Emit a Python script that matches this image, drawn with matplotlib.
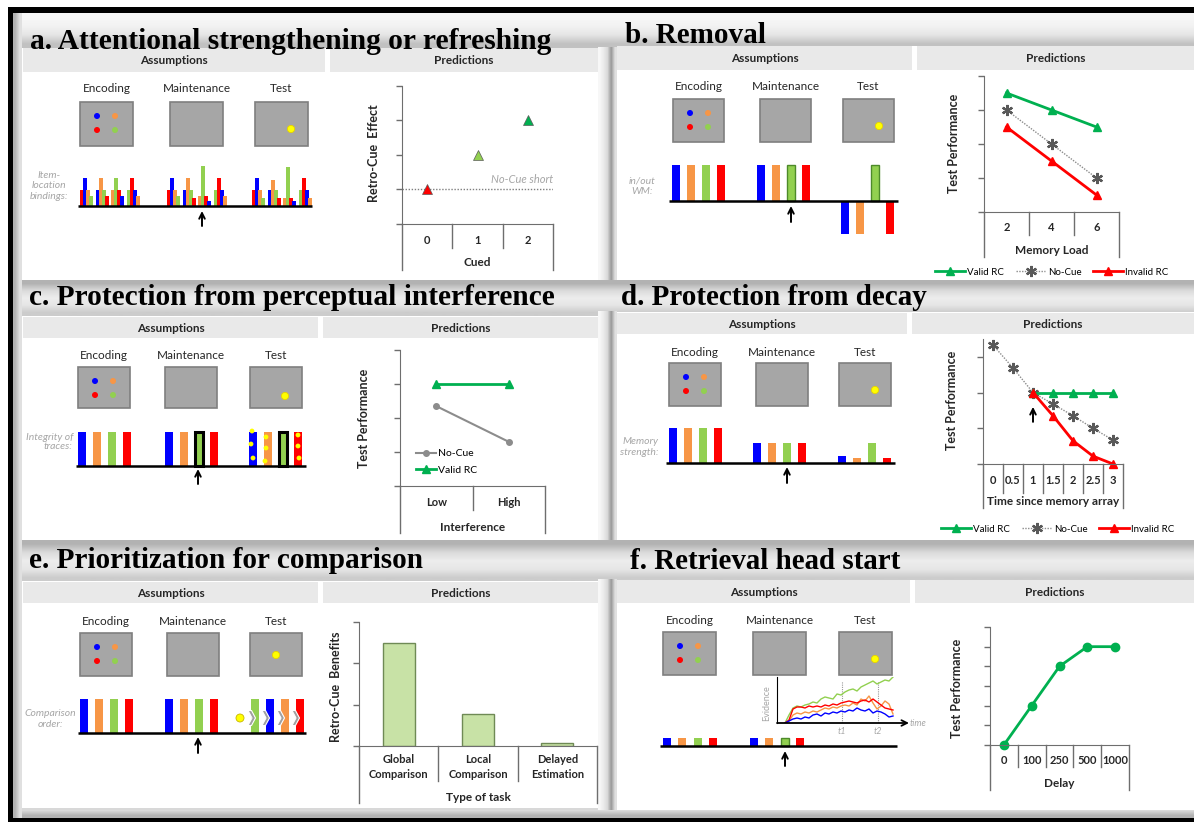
import numpy as np
import matplotlib
matplotlib.use('Agg')
import matplotlib.pyplot as plt
import matplotlib.transforms as mtransforms
from matplotlib.patches import Rectangle, Circle, Polygon

plt.rcParams['font.family'] = ['Lato', 'DejaVu Sans']

W, H = 1194, 822

# ---------------- data ----------------
item_colors = ['#0000ff', '#f79646', '#92d050', '#ff0000']   # blue, orange, green, red
stages = ['Encoding', 'Maintenance', 'Test']

# a. item-location bindings, 4 clusters x 4 bars per stage
a_enc = [[1.6, 2.8, 1.6, 1.0], [1.6, 2.8, 1.6, 1.0], [1.6, 2.8, 1.6, 1.0], [1.6, 2.8, 1.6, 1.0]]
a_maint = [[1.6, 2.8, 1.6, 1.0], [1.6, 2.8, 1.6, 0.8], [1.0, 4.0, 1.0, 0.5], [1.6, 2.8, 1.6, 1.0]]
a_test = [[1.6, 2.8, 1.6, 0.8], [1.6, 2.6, 1.6, 0.8], [0.8, 3.9, 0.8, 0.5], [1.6, 2.8, 1.6, 0.8]]
a_cued = ['0', '1', '2']
a_effect = [1, 2, 3]
a_nocue_short = 1

# b. in/out of WM
b_enc = [1, 1, 1, 1]
b_maint = [1, 1, 1, 1]
b_test = [-0.92, -0.92, 1, -0.92]
b_load = ['2', '4', '6']
b_valid = [3.5, 3.0, 2.5]
b_nocue = [3.0, 2.0, 1.0]
b_invalid = [2.5, 1.5, 0.5]

# c. integrity of traces
c_strength = [1, 1, 1, 1]
c_interference = ['Low', 'High']
c_nocue = [2.35, 1.3]
c_valid = [3, 3]

# d. memory strength
d_enc = [1, 1, 1, 1]
d_maint = [0.57, 0.57, 0.57, 0.57]
d_test = [0.2, 0.14, 0.57, 0.14]
d_time = ['0', '0.5', '1', '1.5', '2', '2.5', '3']
d_nocue = [3.33, 2.69, 2.0, 1.68, 1.35, 1.0, 0.67]
d_valid = [2.0, 2.0, 2.0, 2.0, 2.0]      # from t = 1 on
d_invalid = [2.0, 1.35, 0.65, 0.22, 0.0]  # from t = 1 on

# e. comparison order
e_strength = [1, 1, 1, 1]
e_test_order = [2, 0, 1, 3]
e_tasks = ['Global\nComparison', 'Local\nComparison', 'Delayed\nEstimation']
e_benefit = [2.5, 0.77, 0.08]

# f. retrieval head start
f_items = [1, 1, 1, 1]
f_delay = ['0', '100', '250', '500', '1000']
f_perf = [0, 2, 4, 5, 5]
f_ev_t = [8, 12, 16, 20, 24, 28, 32, 36, 40, 44, 48, 52, 56, 60, 64, 68, 72, 76,
          80, 84, 88, 92, 96, 100, 104, 108, 112, 116]
f_ev_green = [0, 8, 15, 17, 16, 18, 19, 21, 20, 24, 26, 25, 24, 29, 28, 31, 33, 34,
              32, 36, 38, 40, 42, 39, 41, 43, 42, 46]
f_ev_orange = [0, 2, 8, 10, 9, 11, 10, 12, 11, 13, 15, 14, 16, 15, 17, 18, 17, 20,
               18, 24, 22, 27, 20, 14, 17, 22, 19, 9]
f_ev_red = [0, 3, 14, 16, 16, 15, 17, 16, 17, 16, 18, 17, 19, 18, 20, 21, 22, 21,
            20, 22, 23, 21, 24, 21, 18, 15, 14, 13]
f_ev_blue = [0, 2, 4, 5, 4, 6, 5, 8, 9, 7, 10, 9, 11, 10, 12, 11, 13, 12,
             15, 13, 12, 14, 10, 12, 11, 9, 6, 7]

AXC = '#6e6e6e'
GREEN = '#00b050'

fig = plt.figure(figsize=(W / 100, H / 100), dpi=100)
bg = fig.add_axes([0, 0, 1, 1])
bg.axis('off')


def fy(py):
    return 1 - py / H


def px_ax(x0, y0, x1, y1):
    return fig.add_axes([x0 / W, 1 - y1 / H, (x1 - x0) / W, (y1 - y0) / H])


def grad(x0, x1, y0, y1, levels, vertical=True):
    lv = np.array(levels, dtype=float)
    arr = (lv[:, None] if vertical else lv[None, :])[..., None] * np.ones(3)
    bg.imshow(arr, extent=(x0, x1, y1, y0), aspect='auto', interpolation='bilinear', zorder=0)


# ---------------- frame ----------------
bg.add_patch(Rectangle((13, 13), W - 13, 805, fc='#dcdcdc', ec='none', zorder=0))
grad(13, W, 13, 48, [0.97, 0.95, 0.9, 0.76])
grad(13, W, 280, 316, [0.7, 0.86, 0.93, 0.9, 0.8])
grad(13, W, 540, 582, [0.7, 0.86, 0.93, 0.9, 0.8])
grad(13, W, 808, 818, [0.85, 0.7])
grad(13, 22, 13, 818, [0.7, 0.88], vertical=False)
for y0, y1 in [(48, 280), (312, 540), (580, 810)]:
    grad(598, 617, y0, y1, [0.97, 0.92, 0.85, 0.6, 0.88], vertical=False)
bg.add_patch(Rectangle((8, 7), W - 8, 6, fc='black', ec='none', zorder=5))
bg.add_patch(Rectangle((8, 7), 5, H - 7, fc='black', ec='none', zorder=5))
bg.add_patch(Rectangle((8, 818), W - 8, 4, fc='black', ec='none', zorder=5))

white_boxes = [(22, 48, 598, 280), (617, 46, W, 280), (22, 316, 598, 540),
               (617, 312, W, 540), (22, 581, 598, 808), (617, 580, W, 810)]
for x0, y0, x1, y1 in white_boxes:
    bg.add_patch(Rectangle((x0, y0), x1 - x0, y1 - y0, fc='white', ec='none', zorder=1))

headers = [((23, 48, 325, 72), (330, 48, 598, 72)),
           ((617, 46, 912, 70), (917, 46, W, 70)),
           ((23, 317, 318, 338), (323, 317, 598, 338)),
           ((617, 313, 907, 334), (912, 313, W, 334)),
           ((23, 582, 318, 603), (323, 582, 598, 603)),
           ((617, 580, 910, 603), (915, 580, W, 603))]
for boxes in headers:
    for (x0, y0, x1, y1), name in zip(boxes, ['Assumptions', 'Predictions']):
        bg.add_patch(Rectangle((x0, y0), x1 - x0, y1 - y0, fc='#e9e9e9', ec='none', zorder=2))
        xc = (x0 + x1) / 2 if name == 'Assumptions' else (x0 + min(x1, x0 + 290)) / 2
        bg.text(xc, (y0 + y1) / 2 + 1, name, ha='center', va='center', fontsize=8.5,
                fontweight='bold', color='#262626', zorder=3)

titles = [('a. Attentional strengthening or refreshing', 30, 49, 522),
          ('b. Removal', 625, 43, 141),
          ('c. Protection from perceptual interference', 29, 305, 526),
          ('d. Protection from decay', 621, 305, 307),
          ('e. Prioritization for comparison', 29, 568, 394),
          ('f. Retrieval head start', 630, 569, 271)]
renderer = fig.canvas.get_renderer()
for txt, x, y, wt in titles:
    t = bg.text(x, y, txt, ha='left', va='baseline', fontsize=20, fontweight='bold',
                family=['Liberation Serif', 'DejaVu Serif'], color='black', zorder=6)
    bb = t.get_window_extent(renderer)
    t.set_fontsize(20 * wt / bb.width)


# ---------------- assumption schematics ----------------
def stage_boxes(sq_x, sq_y0, sq_y1, sq_w, label_y, yellow=(36, 27)):
    for x, name in zip(sq_x, stages):
        bg.add_patch(Rectangle((x, sq_y0), sq_w, sq_y1 - sq_y0, fc='#a6a6a6', ec='#7f7f7f',
                               lw=1.2, zorder=3))
        bg.text(x + sq_w / 2, label_y, name, ha='center', va='center', fontsize=8.5,
                color='#262626', zorder=3)
    for c, (dx, dy) in zip(item_colors, [(17, 14), (35, 14), (35, 28), (17, 28)]):
        bg.add_patch(Circle((sq_x[0] + dx, sq_y0 + dy), 3, fc=c, ec='none', zorder=4))
    bg.add_patch(Circle((sq_x[2] + yellow[0], sq_y0 + yellow[1]), 3.6, fc='#ffff00',
                        ec='#e6d200', lw=0.6, zorder=4))


def side_label(x, y, txt, ha='center', ls=1.2):
    bg.text(x, y, txt, ha=ha, va='center', fontsize=7.5, style='italic', color='#a6a6a6',
            linespacing=ls, zorder=3)


def baseline(x0, x1, y):
    bg.plot([x0, x1], [y, y], color='black', lw=1.8, zorder=4, solid_capstyle='butt')


def cue_arrow(x, y_bot, y_top):
    bg.annotate('', xy=(x, y_top), xytext=(x, y_bot), zorder=5,
                arrowprops=dict(arrowstyle='->', lw=1.4, color='black', shrinkA=0, shrinkB=0))


def item_bars(gx, heights, base, scale, order=(0, 1, 2, 3), width=8, step=15, **kw):
    xs = [gx + i * step for i in range(len(heights))]
    bg.bar(xs, [-h * scale for h in heights], width=width, bottom=base, align='edge',
           color=[item_colors[k] for k in order], zorder=3, **kw)


# a
stage_boxes([80, 170, 255], 102, 146, 53, 89)
side_label(49, 186, 'Item-\nlocation\nbindings:', ls=1.25)
for gx, data in zip([80, 167, 252], [a_enc, a_maint, a_test]):
    for j, hs in enumerate(data):
        order = [(j - 1) % 4, j, (j + 1) % 4, (j + 2) % 4]
        item_bars(gx + j * 15.5, hs, 206, 10, order=order, width=4, step=3)
baseline(78, 312, 206)
cue_arrow(202, 226, 211)

# b
stage_boxes([673, 760, 843], 99, 142, 51, 86)
side_label(642, 186, 'in/out\nWM:', ls=1.2)
item_bars(672, b_enc, 201, 36)
item_bars(757, b_maint, 201, 36, edgecolor=['none', 'none', '#4d8a2a', 'none'], linewidth=1)
item_bars(841, b_test, 201, 36, edgecolor=['none', 'none', '#4d8a2a', 'none'], linewidth=1)
baseline(669, 898, 201)
cue_arrow(791, 222, 206)

# c
stage_boxes([78, 165, 250], 367, 408, 52, 355, yellow=(35, 29))
side_label(73, 442, 'Integrity of\ntraces:', ha='right', ls=1.0)
item_bars(78, c_strength, 466, 34)
item_bars(165, c_strength, 466, 34, edgecolor=['none', 'none', 'black', 'none'], linewidth=2.2)
item_bars(249, c_strength, 466, 34, edgecolor=['none', 'none', 'black', 'none'], linewidth=2.2)
noise_dots = [(252, 431), (251, 444), (253, 458), (266, 437), (266, 448), (265, 461),
              (298, 435), (298, 446), (299, 458)]
for x, y in noise_dots:
    bg.add_patch(Circle((x, y), 2.4, fc='#ffff00', ec='none', zorder=4))
baseline(76, 306, 466)
cue_arrow(198, 484, 469)

# d
stage_boxes([669, 756, 839], 363, 406, 52, 352)
side_label(658, 447, 'Memory\nstrength:', ha='right', ls=1.15)
item_bars(669, d_enc, 463, 35)
item_bars(753, d_maint, 463, 35)
item_bars(838, d_test, 463, 35)
baseline(666, 895, 463)
cue_arrow(787, 483, 467)

# e
stage_boxes([80, 167, 250], 633, 676, 52, 621, yellow=(26, 22))
side_label(50, 719, 'Comparison\norder:', ls=1.15)
item_bars(80, e_strength, 733, 34)
item_bars(165, e_strength, 733, 34)
item_bars(251, e_strength, 733, 34, order=e_test_order)
bg.add_patch(Circle((240, 718), 4, fc='#ffff00', ec='#c8b400', lw=0.6, zorder=4))
for x0 in [248, 262, 277, 292]:
    yc, h = 718, 7.5
    pts = [(x0, yc - h), (x0 + 3.5, yc - h), (x0 + 7.5, yc), (x0 + 3.5, yc + h),
           (x0, yc + h), (x0 + 4, yc)]
    bg.add_patch(Polygon(pts, closed=True, fc='#a0a0a0', ec='white', lw=0.8, zorder=5))
baseline(78, 306, 733)
cue_arrow(198, 753, 737)

# f
stage_boxes([663, 753, 839], 632, 675, 53, 620)
item_bars(663, f_items, 746, 8, step=15.4)
item_bars(750, f_items, 746, 8, step=15.4, edgecolor=['none', 'none', '#4d8a2a', 'none'],
          linewidth=1)
baseline(660, 897, 746)
cue_arrow(785, 766, 751)

ev = px_ax(777, 677, 907, 723)
ev.patch.set_alpha(0)
ev.set_xlim(0, 130)
ev.set_ylim(0, 46)
for s in ['top', 'right', 'bottom']:
    ev.spines[s].set_visible(False)
ev.spines['left'].set_color('black')
ev.set_xticks([])
ev.set_yticks([])
for tv in [65, 101]:
    ev.plot([tv, tv], [0, 42], color='#9a9a9a', lw=0.8, ls=(0, (1, 1)))
for ys, c in zip([f_ev_green, f_ev_orange, f_ev_red, f_ev_blue],
                 ['#92d050', '#f79646', '#ff0000', '#0000ff']):
    ev.plot(f_ev_t, ys, color=c, lw=1)
ev.annotate('', xy=(132, 0), xytext=(0, 0), annotation_clip=False,
            arrowprops=dict(arrowstyle='->', lw=1.3, color='black', shrinkA=0, shrinkB=0))
bg.text(910, 723, 'time', ha='left', va='center', fontsize=6.5, style='italic', color='#a6a6a6')
bg.text(842, 731, 't1', ha='center', va='center', fontsize=6.5, style='italic', color='#a6a6a6')
bg.text(878, 731, 't2', ha='center', va='center', fontsize=6.5, style='italic', color='#a6a6a6')
bg.text(767, 703, 'Evidence', ha='center', va='center', fontsize=6.5, rotation=90,
        color='#a6a6a6')


# ---------------- prediction charts ----------------
def chart(box, ymax, yticks, ylabel, ylab_xy):
    ax = px_ax(*box)
    ax.patch.set_alpha(0)
    ax.set_ylim(0, ymax)
    ax.set_yticks(yticks)
    ax.set_yticklabels([])
    ax.set_xticks([])
    ax.tick_params(axis='y', direction='out', length=4, color=AXC, width=1)
    for s in ['top', 'right']:
        ax.spines[s].set_visible(False)
    for s in ['left', 'bottom']:
        ax.spines[s].set_color(AXC)
    bg.text(ylab_xy[0], ylab_xy[1], ylabel, rotation=90, ha='center', va='center',
            fontsize=9, fontweight='bold', color='#262626')
    return ax


def cat_axis(ax, labels, lab_y, title, title_y, inner_bot, outer_bot):
    n = len(labels)
    ax.set_xlim(-0.5, n - 0.5)
    tr = mtransforms.blended_transform_factory(ax.transData, fig.transFigure)
    y_ax = ax.get_position().y0
    for i, lab in enumerate(labels):
        ax.text(i, fy(lab_y), lab, transform=tr, ha='center', va='center', fontsize=8,
                fontweight='bold', color='#262626', linespacing=1.5)
    for b in np.arange(0.5, n - 1, 1.0):
        ax.plot([b, b], [y_ax, fy(inner_bot)], transform=tr, color=AXC, lw=1, clip_on=False)
    for b in [-0.5, n - 0.5]:
        ax.plot([b, b], [y_ax, fy(outer_bot)], transform=tr, color=AXC, lw=1, clip_on=False)
    ax.text((n - 1) / 2, fy(title_y), title, transform=tr, ha='center', va='center',
            fontsize=8.5, fontweight='bold', color='#262626')


def bottom_legend(ax, handles, labels, cx, cy):
    ax.legend(handles, labels, loc='center', bbox_to_anchor=(cx / W, fy(cy)),
              bbox_transform=fig.transFigure, ncol=3, frameon=False, fontsize=7,
              handlelength=3, columnspacing=1.2, handletextpad=0.3, borderpad=0)


STAR = (6, 2, 0)

# a
ax = chart((402, 86, 553, 224), 4, [0, 1, 2, 3, 4], 'Retro-Cue  Effect', (374, 153))
cat_axis(ax, a_cued, 240, 'Cued', 263, 248, 270)
ax.axhline(a_nocue_short, color='#7f7f7f', lw=1, ls=(0, (1, 1.2)))
for i, (v, c) in enumerate(zip(a_effect, ['#ff0000', '#92d050', GREEN])):
    ax.plot(i, v, marker='^', ms=7, color=c, mec='#5a5a5a', mew=0.5, clip_on=False)
ax.text(2.5, a_nocue_short + 0.12, 'No-Cue short', ha='right', va='bottom', fontsize=8,
        style='italic', color='#a6a6a6')

# b
ax = chart((984, 76, 1119, 212), 4, [0, 1, 2, 3, 4], 'Test Performance', (954, 143))
cat_axis(ax, b_load, 227, 'Memory Load', 250, 235, 257)
xs = range(len(b_load))
h1, = ax.plot(xs, b_valid, color=GREEN, lw=2, marker='^', ms=6)
h2, = ax.plot(xs, b_nocue, color='#8c8c8c', lw=1, ls=(0, (1, 1)), marker=STAR, ms=8,
              mec='#595959', mew=1.6)
h3, = ax.plot(xs, b_invalid, color='#ff0000', lw=2, marker='^', ms=6)
bottom_legend(ax, [h1, h2, h3], ['Valid RC', 'No-Cue', 'Invalid RC'], 1052, 272)

# c
ax = chart((400, 350, 545, 486), 4, [0, 1, 2, 3, 4], 'Test Performance', (364, 418))
cat_axis(ax, c_interference, 502, 'Interference', 527, 510, 533)
xs = range(len(c_interference))
hn, = ax.plot(xs, c_nocue, color='#8c8c8c', lw=1.5, marker='o', ms=4)
hv, = ax.plot(xs, c_valid, color=GREEN, lw=2, marker='^', ms=6)
ax.legend([hn, hv], ['No-Cue', 'Valid RC'], loc='center left',
          bbox_to_anchor=(411 / W, fy(462)), bbox_transform=fig.transFigure, frameon=False,
          fontsize=7.5, handlelength=1.9, handletextpad=0.2, labelspacing=0.7, borderpad=0)

# d
ax = chart((983, 339, 1123, 464), 3.5, [0, 1, 2, 3], 'Test Performance', (952, 400))
cat_axis(ax, d_time, 480, 'Time since memory array', 501, 493, 508)
x_all = list(range(len(d_time)))
h2, = ax.plot(x_all, d_nocue, color='#8c8c8c', lw=1, ls=(0, (1, 1)), marker=STAR, ms=8,
              mec='#595959', mew=1.6, clip_on=False)
h1, = ax.plot(x_all[2:], d_valid, color=GREEN, lw=2, marker='^', ms=6)
h3, = ax.plot(x_all[2:], d_invalid, color='#ff0000', lw=2, marker='^', ms=6, clip_on=False)
ax.annotate('', xy=(2, 1.6), xytext=(2, 1.18),
            arrowprops=dict(arrowstyle='->', lw=1.4, color='black', shrinkA=0, shrinkB=0))
bottom_legend(ax, [h1, h2, h3], ['Valid RC', 'No-Cue', 'Invalid RC'], 1058, 529)

# e
ax = chart((359, 622, 597, 746), 3, [0, 1, 2, 3], 'Retro-Cue  Benefits', (336, 687))
cat_axis(ax, e_tasks, 767, 'Type of task', 797, 781, 803)
ax.bar(range(len(e_tasks)), e_benefit, width=0.4, color='#c8e2a6', edgecolor='#6f8a55', lw=1)

# f
ax = chart((990, 627, 1129, 745), 6, [0, 1, 2, 3, 4, 5, 6], 'Test Performance', (957, 688))
cat_axis(ax, f_delay, 760, 'Delay', 783, 767, 790)
ax.plot(range(len(f_delay)), f_perf, color=GREEN, lw=2, marker='o', ms=6, clip_on=False)

bg.set_xlim(0, W)
bg.set_ylim(H, 0)
fig.savefig('out.png', dpi=100)
